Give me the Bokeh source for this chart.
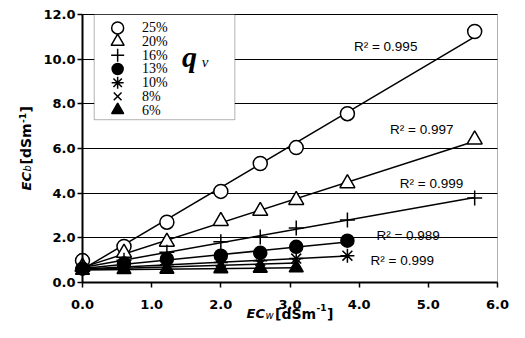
import numpy as np
from bokeh.plotting import figure
from bokeh.models import (Range1d, FixedTicker, PrintfTickFormatter, Label,
                          BoxAnnotation)
from bokeh.embed import file_html
from bokeh.resources import INLINE

# ---------------- data ----------------
ec_w = [0.0, 0.6, 1.22, 2.0, 2.57, 3.09, 3.83, 5.67]
series_labels = ["25%", "20%", "16%", "13%", "10%", "8%", "6%"]
q25 = [0.98, 1.61, 2.70, 4.08, 5.33, 6.04, 7.56, 11.24]
q20 = [0.70, 1.33, 1.82, 2.75, 3.20, 3.69, 4.44, 6.40]
q16 = [0.65, 1.00, 1.35, 1.82, 2.04, 2.44, 2.80, 3.78]
q13 = [0.62, 0.85, 1.05, 1.20, 1.33, 1.60, 1.87]
q10 = [0.60, 0.70, 0.80, 0.90, 0.97, 1.07, 1.20]
q8 = [0.58, 0.65, 0.70, 0.76, 0.82, 0.88]
q6 = [0.55, 0.58, 0.60, 0.62, 0.64, 0.66]
r2_texts = ["R\u00b2 = 0.995", "R\u00b2 = 0.997", "R\u00b2 = 0.999",
            "R\u00b2 = 0.989", "R\u00b2 = 0.999"]
x_ticks = [0, 1, 2, 3, 4, 5, 6]
y_ticks = [0, 2, 4, 6, 8, 10, 12]

series = [q25, q20, q16, q13, q10, q8, q6]
markers = ["circle", "triangle", "cross", "circle", "asterisk", "x", "triangle"]
fills = ["white", "white", None, "black", None, None, "black"]
sizes = [14, 15, 15, 13, 14, 13, 14]

# ---------------- geometry (canvas px) ----------------
W, H = 509, 322
FL, FR, FT, FB = 82, 497, 14, 282      # where the data box sits
XS = (FR - FL) / 6.0
YS = (FB - FT) / 12.0


def dx(px):
    return (px - FL) / XS


def dy(py):
    return (FB - py) / YS


# reference-picture pixel -> data (for annotations inside the data box)
def rx(px):
    return (px - 82) / 70.83


def ry(py):
    return (284 - py) / 22.5


# the frame covers the whole canvas; axes sit at fixed data locations
p = figure(width=W, height=H, output_backend="svg", toolbar_location=None,
           x_range=Range1d(dx(0), dx(W)), y_range=Range1d(dy(H), dy(0)),
           min_border=0, min_border_left=0, min_border_right=0,
           min_border_top=0, min_border_bottom=0)
p.background_fill_color = "white"
p.border_fill_color = "white"
p.outline_line_color = None

p.xgrid.visible = False
yg = p.ygrid[0]
yg.grid_line_color = "black"
yg.grid_line_width = 1
yg.ticker = FixedTicker(ticks=y_ticks)
yg.bounds = (0, 12)
if "cross_bounds" in yg.properties():
    yg.cross_bounds = (0, 6)
else:
    yg.visible = False
    p.segment(x0=[0] * len(y_ticks), y0=y_ticks, x1=[6] * len(y_ticks), y1=y_ticks,
              line_color="black", line_width=1, level="underlay")

for ax, ticks, bnd in ((p.xaxis[0], x_ticks, (0, 6)), (p.yaxis[0], y_ticks, (0, 12))):
    ax.ticker = FixedTicker(ticks=ticks)
    ax.formatter = PrintfTickFormatter(format="%.1f")
    ax.fixed_location = 0
    ax.bounds = bnd
    ax.axis_line_color = "black"
    ax.axis_line_width = 2
    ax.major_tick_line_color = "black"
    ax.major_tick_line_width = 1.5
    ax.major_tick_out = 5
    ax.major_tick_in = 0
    ax.minor_tick_line_color = None
    ax.major_label_text_font = "DejaVu Sans"
    ax.major_label_text_font_style = "bold"
    ax.major_label_text_font_size = "13px"
    ax.major_label_text_color = "black"
p.yaxis[0].major_label_standoff = 2
p.xaxis[0].major_label_standoff = 12

# legend box (under the glyphs, over the grid)
p.add_layout(BoxAnnotation(left=rx(94), right=rx(238), top=12, bottom=ry(120),
                           fill_color="white", fill_alpha=1,
                           line_color="black", line_width=1, level="underlay"))
# plot box (top / right edges)
p.add_layout(BoxAnnotation(left=0, right=6, top=12, bottom=0, fill_alpha=0,
                           line_color="black", line_width=1))

# regression lines
for ys in series:
    xs = np.array(ec_w[:len(ys)])
    yv = np.array(ys)
    m, b = np.polyfit(xs, yv, 1)
    p.line([0, xs[-1]], [b, b + m * xs[-1]], line_color="black", line_width=1.5)

# markers + hand-built legend rows
for i, (ys, mk, fc, sz, lab) in enumerate(zip(series, markers, fills, sizes, series_labels)):
    style = dict(marker=mk, size=sz, fill_color=fc if fc else "black",
                 fill_alpha=1 if fc else 0, line_color="black", line_width=1.5)
    p.scatter(ec_w[:len(ys)], ys, **style)
    row_y = ry(27.5 + 13.8 * i)
    leg = dict(style)
    leg["size"] = sz - 2
    p.scatter([rx(118)], [row_y], **leg)
    p.add_layout(Label(x=rx(143), y=row_y, text=lab, text_font="Liberation Serif",
                       text_font_size="14px", text_baseline="middle",
                       text_align="left", text_color="black"))

# R^2 labels
r2_pos = [(360, 46), (397, 130), (407, 184), (383, 237), (377, 262)]
for t, (x, y) in zip(r2_texts, r2_pos):
    p.add_layout(Label(x=rx(x), y=ry(y), text=t, text_font="Liberation Sans",
                       text_font_size="13.5px", text_baseline="middle",
                       text_align="left", text_color="black"))

p.add_layout(Label(x=rx(184), y=ry(56), text="q", text_font="Liberation Serif",
                   text_font_style="bold italic", text_font_size="30px",
                   text_baseline="middle", text_color="black"))
p.add_layout(Label(x=rx(204), y=ry(62), text="v", text_font="Liberation Serif",
                   text_font_style="italic", text_font_size="15px",
                   text_baseline="middle", text_color="black"))


# axis titles built from pieces (anchors are visual centres)
def piece(x, y, t, size, style, angle=0.0):
    p.add_layout(Label(x=dx(x), y=dy(y), text=t, text_font="DejaVu Sans",
                       text_font_style=style, text_font_size=size,
                       text_baseline="middle", text_align="left",
                       angle=angle, text_color="black"))


# x title: EC_w[dSm^-1]
cx = 313
piece(246, cx, "EC", "13px", "bold italic")
piece(265, cx + 1.5, "w", "10px", "italic")
piece(274.5, cx, "[dSm", "14px", "bold")
piece(316, cx - 6.5, "-1", "9px", "bold")
piece(326.5, cx, "]", "14px", "bold")

# y title: EC_b[dSm^-1] rotated
a = np.pi / 2
cy = 25.5
piece(cy, 190, "EC", "13px", "bold italic", a)
piece(cy + 1.5, 171, "b", "10px", "italic", a)
piece(cy, 164, "[dSm", "14px", "bold", a)
piece(cy - 4, 122.5, "-1", "9px", "bold", a)
piece(cy, 112, "]", "14px", "bold", a)

open("out.html", "w").write(file_html(p, INLINE))
